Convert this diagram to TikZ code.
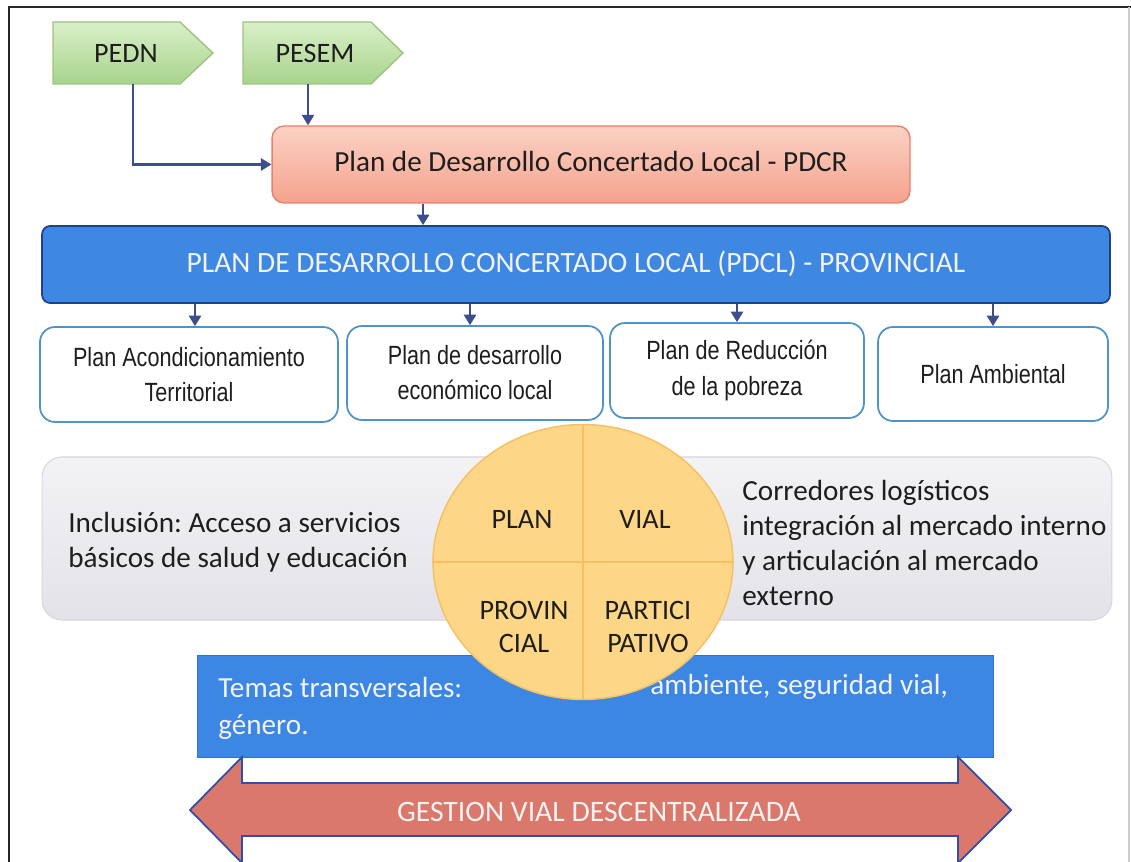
\documentclass[tikz,border=0pt]{standalone}
\usepackage{fontspec}
\setmainfont{Carlito}
\newfontfamily\narrowfont[FakeStretch=0.82]{Liberation Sans}
\usetikzlibrary{arrows.meta,shapes.geometric}
\frenchspacing
\definecolor{greenTop}{HTML}{D9EFC8}
\definecolor{greenBot}{HTML}{A8D48C}
\definecolor{greenLine}{HTML}{9DC384}
\definecolor{pdcrTop}{HTML}{FBD2C4}
\definecolor{pdcrBot}{HTML}{F5A28E}
\definecolor{pdcrLine}{HTML}{E8806C}
\definecolor{barBlue}{HTML}{3F88E2}
\definecolor{barLine}{HTML}{203F8C}
\definecolor{boxLine}{HTML}{4F93C8}
\definecolor{bandTop}{HTML}{F3F3F6}
\definecolor{bandBot}{HTML}{E2E2E8}
\definecolor{bandLine}{HTML}{D6D6DC}
\definecolor{circFill}{HTML}{FDD687}
\definecolor{circLine}{HTML}{F4C063}
\definecolor{temaBlue}{HTML}{3C86E4}
\definecolor{arrowFill}{HTML}{D9786B}
\definecolor{arrowLine}{HTML}{2F4FA8}
\definecolor{conn}{HTML}{3C4F8C}
\definecolor{ink}{HTML}{1E1E1E}
\definecolor{paleText}{HTML}{F2F2F2}
\tikzset{
  every node/.style={font=\fontsize{16.6}{20}\selectfont, text=ink, inner sep=0pt},
  conarrow/.style={draw=conn, line width=1.2pt, -{Triangle[width=7pt,length=6pt]}},
  planbox/.style={draw=boxLine, line width=1pt, fill=white, rounded corners=0.3cm, align=center,
     font=\narrowfont\fontsize{15}{20}\selectfont},
  quadtext/.style={align=center, font=\fontsize{16}{19}\selectfont},
  tagtext/.style={font=\fontsize{16}{20}\selectfont},
}
\begin{document}
\begin{tikzpicture}[x=0.02cm,y=-0.02cm]
\useasboundingbox (0,0) rectangle (1131,861);
\clip (0,0) rectangle (1131,861);
% frame
\draw[line width=1.7pt, color=black!85] (9,870) -- (9,7) -- (1131,7);
\draw[line width=0.6pt, color=black!20] (1129,7) -- (1129,870);

% green signals
\draw[greenLine, line width=0.8pt, top color=greenTop, bottom color=greenBot]
  (53,22) -- (180,22) -- (213,53) -- (180,84) -- (53,84) -- cycle;
\draw[greenLine, line width=0.8pt, top color=greenTop, bottom color=greenBot]
  (243,22) -- (371,22) -- (403,53) -- (371,84) -- (243,84) -- cycle;
\node[tagtext, minimum height=1.24cm] (pedn) at (126,53) {PEDN};
\node[tagtext, minimum height=1.24cm] (pesem) at (315,53) {PESEM};

% PDCR
\node[draw=pdcrLine, line width=0.8pt, top color=pdcrTop, bottom color=pdcrBot,
      rounded corners=0.24cm, minimum width=12.76cm, minimum height=1.54cm]
  (pdcr) at (591,164.5) {\raisebox{3pt}{Plan de Desarrollo Concertado Local - PDCR}};

% provincial bar
\node[draw=barLine, line width=1pt, fill=barBlue, rounded corners=0.16cm,
      minimum width=21.36cm, minimum height=1.54cm, text=paleText, font=\fontsize{16.8}{20}\selectfont]
  (bar) at (576,264.5) {\raisebox{3pt}{PLAN DE DESARROLLO CONCERTADO LOCAL (PDCL) - PROVINCIAL}};

% four plans
\node[planbox, minimum width=5.96cm, minimum height=1.9cm] (p1) at (189,374.5) {Plan Acondicionamiento\\Territorial};
\node[planbox, minimum width=5.12cm, minimum height=1.88cm] (p2) at (475,373) {Plan de desarrollo\\económico local};
\node[planbox, minimum width=5.08cm, minimum height=1.9cm] (p3) at (737,370.5) {Plan de Reducción\\de la pobreza};
\node[planbox, minimum width=4.6cm, minimum height=1.88cm] (p4) at (993,374) {Plan Ambiental};

% connectors
\draw[conarrow] ([xshift=0.14cm]pedn.south) |- (pdcr.west);
\draw[conarrow] ([xshift=-0.14cm]pesem.south) -- ([xshift=-0.14cm]pesem.south |- pdcr.north);
\draw[conarrow] ([xshift=-3.36cm]pdcr.south) -- ([xshift=-3.36cm]pdcr.south |- bar.north);
\foreach \p/\dx in {p1/0.12cm,p2/-0.1cm,p3/0cm,p4/0cm}{
  \draw[conarrow] ([xshift=\dx]\p.north |- bar.south) -- ([xshift=\dx]\p.north);
}

% gray band
\node[draw=bandLine, line width=0.6pt, top color=bandTop, bottom color=bandBot,
      rounded corners=0.4cm, minimum width=21.4cm, minimum height=3.26cm] (band) at (577,538.5) {};
\node[anchor=west, align=left] (incl) at (68,542) {Inclusión: Acceso a servicios\\básicos de salud y educación};
\begin{scope}
\clip (42,457) rectangle (1108,620);
\node[anchor=west, align=left] (corr) at (742,543) {Corredores logísticos\\integración al mercado interno\\y articulación al mercado\\externo};
\end{scope}

% temas transversales
\node[fill=temaBlue, draw=temaBlue!85!black, line width=0.5pt, minimum width=15.92cm, minimum height=2.04cm] (temas) at (595,706) {};
\node[anchor=west, text=paleText] (t1) at (218,687) {Temas transversales:};
\node[anchor=west, text=paleText] (t2) at (650,687) {ambiente, seguridad vial,};
\node[anchor=west, text=paleText] (t3) at (218,727) {género.};

% circle
\node[ellipse, fill=circFill, draw=circLine, line width=0.8pt, minimum width=6cm, minimum height=5.5cm] (circ) at (583,562) {};
\draw[circLine, line width=0.8pt] (circ.north) -- (circ.south);
\draw[circLine, line width=0.8pt] (circ.west) -- (circ.east);
\node[quadtext] (q1) at (522,519) {PLAN};
\node[quadtext] (q2) at (645,519) {VIAL};
\node[quadtext] (q3) at (524,627) {PROVIN\\CIAL};
\node[quadtext] (q4) at (648,627) {PARTICI\\PATIVO};

% double arrow
\draw[fill=arrowFill, draw=arrowLine, line width=1pt, line join=miter]
  (190,810) -- (242,757) -- (242,783) -- (958,783) -- (958,757) -- (1011,810)
  -- (958,863) -- (958,836) -- (242,836) -- (242,863) -- cycle;
\node[text=paleText, font=\fontsize{16.9}{20}\selectfont] (gest) at (599,812) {GESTION VIAL DESCENTRALIZADA};
\end{tikzpicture}
\end{document}
